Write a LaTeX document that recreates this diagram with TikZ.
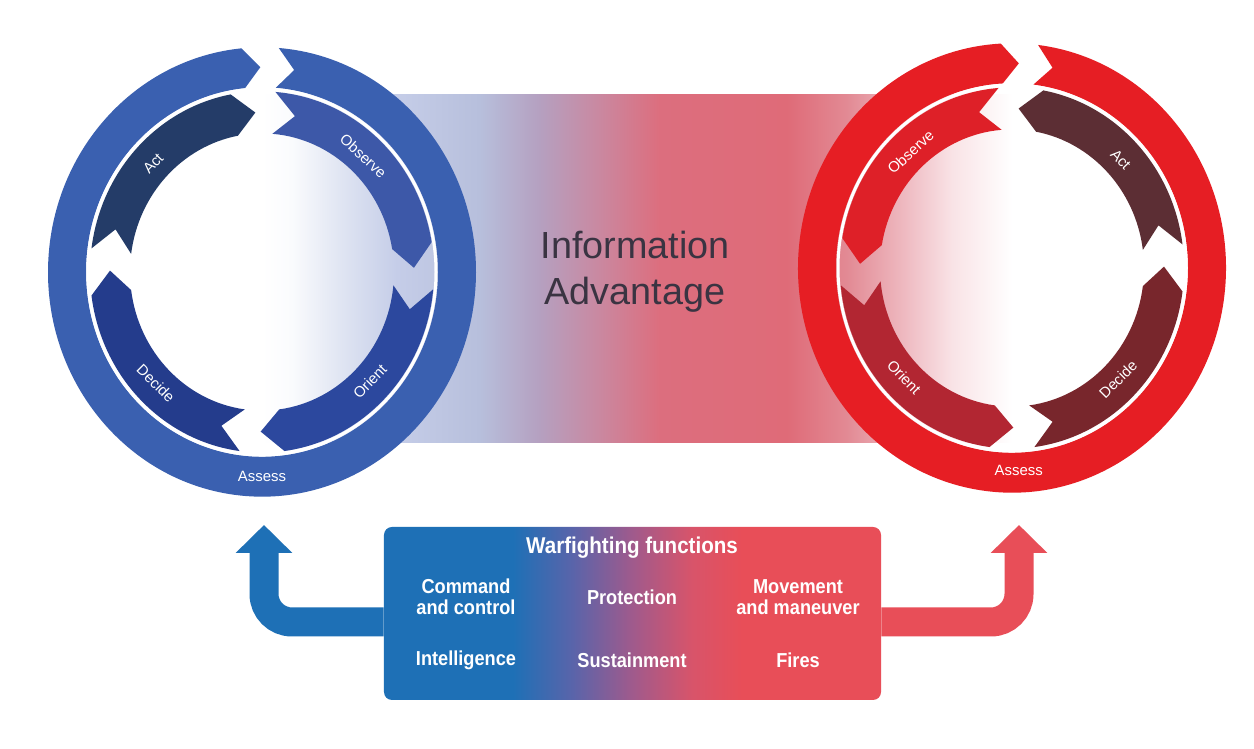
\documentclass[tikz,border=0pt]{standalone}
\usepackage{fontspec}
\setmainfont{Liberation Sans}
\setsansfont{Liberation Sans}
\newfontfamily\narrowsf[FakeStretch=0.9]{Liberation Sans}
\usetikzlibrary{arrows.meta}

\definecolor{bOuter}{HTML}{3A60B0}
\definecolor{bObserve}{HTML}{3D58A8}
\definecolor{bOrient}{HTML}{2C489E}
\definecolor{bDecide}{HTML}{243C8C}
\definecolor{bAct}{HTML}{243C68}
\definecolor{rOuter}{HTML}{E61E24}
\definecolor{rObserve}{HTML}{DE2028}
\definecolor{rOrient}{HTML}{B22632}
\definecolor{rDecide}{HTML}{78262C}
\definecolor{rAct}{HTML}{5C2E34}
\definecolor{iaA}{HTML}{FAFBFD}
\definecolor{iaB}{HTML}{DAE0F0}
\definecolor{iaC}{HTML}{C5CDE8}
\definecolor{iaD}{HTML}{B7BFDC}
\definecolor{iaE}{HTML}{B5A0C0}
\definecolor{iaF}{HTML}{CA88A0}
\definecolor{iaG}{HTML}{DC6E7E}
\definecolor{iaH}{HTML}{DF6B78}
\definecolor{iaI}{HTML}{E28A94}
\definecolor{iaJ}{HTML}{EFBCC3}
\definecolor{iaK}{HTML}{F9E3E6}
\definecolor{wfBlue}{HTML}{1E70B6}
\definecolor{wfMidA}{HTML}{5A64AA}
\definecolor{wfMidB}{HTML}{A05A8C}
\definecolor{wfMidC}{HTML}{D8546A}
\definecolor{wfRed}{HTML}{E84E58}
\definecolor{iaText}{HTML}{3A3442}

\pgfdeclarehorizontalshading{infoadv}{100bp}{color(0bp)=(white); color(25bp)=(white);
  color(27bp)=(iaA); color(31bp)=(iaB); color(34bp)=(iaC); color(39.5bp)=(iaD);
  color(43.5bp)=(iaE); color(47.5bp)=(iaF); color(51.5bp)=(iaG); color(60bp)=(iaH);
  color(64bp)=(iaI); color(68bp)=(iaJ); color(71bp)=(iaK); color(75bp)=(white); color(100bp)=(white)}
\pgfdeclarehorizontalshading{wfshade}{100bp}{color(0bp)=(wfBlue); color(38bp)=(wfBlue);
  color(44bp)=(wfMidA); color(50bp)=(wfMidB); color(56bp)=(wfMidC); color(61bp)=(wfRed); color(100bp)=(wfRed)}

\tikzset{
  ringlabel/.style={text=white,font=\sffamily\fontsize{8.5}{10}\selectfont,inner sep=0pt},
  wfbox/.style={shading=wfshade,rounded corners=1.6mm,inner sep=0pt,minimum width=99.4mm,minimum height=34.6mm},
  wftitle/.style={text=white,font=\narrowsf\bfseries\fontsize{13}{15}\selectfont},
  wfitem/.style={text=white,align=center,font=\narrowsf\bfseries\fontsize{11.5}{12}\selectfont},
  wfarrow/.style={line width=5.8mm,rounded corners=5.6mm,-{Triangle[width=11mm,length=5.6mm]}},
}

\begin{document}
\begin{tikzpicture}[x=0.2mm,y=0.2mm]
  \useasboundingbox (0,0) rectangle (1254,749);
  \fill[white] (0,0) rectangle (1254,749);
   \coordinate (Bcenter) at (262,477);
   \coordinate (Rcenter) at (1012,481);
  \shade[shading=infoadv] (262,306) rectangle (1012,654);
% blue loop, clockwise
  \begin{scope}[shift={(Bcenter)},yscale=1.05]
    \fill[bOuter] (85.5:214) arc[start angle=85.5,end angle=-264.5,radius=214] -- (-269.5:195)
      -- (-264.5:176) arc[start angle=-264.5,end angle=85.5,radius=176] -- (80.5:195) -- cycle;
    \draw[white,line width=0.6mm] (0,0) circle[radius=174];
    \node[ringlabel] at (-90:195) {Assess};
    \foreach \s/\e/\col/\lab in {85.5/9.5/bObserve/Observe,-5.5/-82.5/bOrient/Orient,
        -97.5/-172.5/bDecide/Decide,172.5/100.5/bAct/Act}{% one chevron per step
      \pgfmathsetmacro\d{ifthenelse(\e<\s,-8,8)}
      \pgfmathsetmacro\m{(\s+\e)/2}
      \pgfmathsetmacro\rot{ifthenelse(sin(\m)>0,\m-90,\m+90)}
      \fill[\col] (\s:172) arc[start angle=\s,end angle=\e,radius=172] -- ({\e+\d}:152)
        -- (\e:132) arc[start angle=\e,end angle=\s,radius=132] -- ({\s+\d}:152) -- cycle;
      \node[ringlabel,rotate=\rot] at (\m:150) {\lab};
    }
  \end{scope}
% red loop, counterclockwise inside
  \begin{scope}[shift={(Rcenter)},yscale=1.05]
    \fill[rOuter] (83:214) arc[start angle=83,end angle=-267,radius=214] -- (-272:195)
      -- (-267:176) arc[start angle=-267,end angle=83,radius=176] -- (78:195) -- cycle;
    \draw[white,line width=0.6mm] (0,0) circle[radius=174];
    \node[ringlabel] at (-88:193) {Assess};
    \foreach \s/\e/\col/\lab in {94.5/170.5/rObserve/Observe,185.5/262.5/rOrient/Orient,
        277.5/352.5/rDecide/Decide,7.5/79.5/rAct/Act}{%
      \pgfmathsetmacro\d{ifthenelse(\e<\s,-8,8)}
      \pgfmathsetmacro\m{(\s+\e)/2}
      \pgfmathsetmacro\rot{ifthenelse(sin(\m)>0,\m-90,\m+90)}
      \fill[\col] (\s:172) arc[start angle=\s,end angle=\e,radius=172] -- ({\e+\d}:152)
        -- (\e:132) arc[start angle=\e,end angle=\s,radius=132] -- ({\s+\d}:152) -- cycle;
      \node[ringlabel,rotate=\rot] at (\m:150) {\lab};
    }
  \end{scope}
  \node[text=iaText,align=center,font=\sffamily\fontsize{21.5}{26}\selectfont] (ia) at (635,477)
    {Information\\Advantage};
% warfighting functions
  \node[wfbox] (wf) at (632.5,135.5) {};
   \coordinate (bluebend) at (264,127);
   \coordinate (bluetip) at (264,224);
   \coordinate (redbend) at (1019,127);
   \coordinate (redtip) at (1019,224);
  \draw[wfarrow,wfBlue] (wf.west |- bluebend) -- (bluebend) -- (bluetip);
  \draw[wfarrow,wfRed] (wf.east |- redbend) -- (redbend) -- (redtip);
  \node[wftitle] (wft) at (632,201) {Warfighting functions};
  \node[wfitem] (cmd) at (466,152) {Command\\and control};
  \node[wfitem] (prot) at (632,152) {Protection};
  \node[wfitem] (move) at (798,152) {Movement\\and maneuver};
  \node[wfitem] (intel) at (466,89) {Intelligence};
  \node[wfitem] (sust) at (632,89) {Sustainment};
  \node[wfitem] (fires) at (798,89) {Fires};
\end{tikzpicture}
\end{document}
